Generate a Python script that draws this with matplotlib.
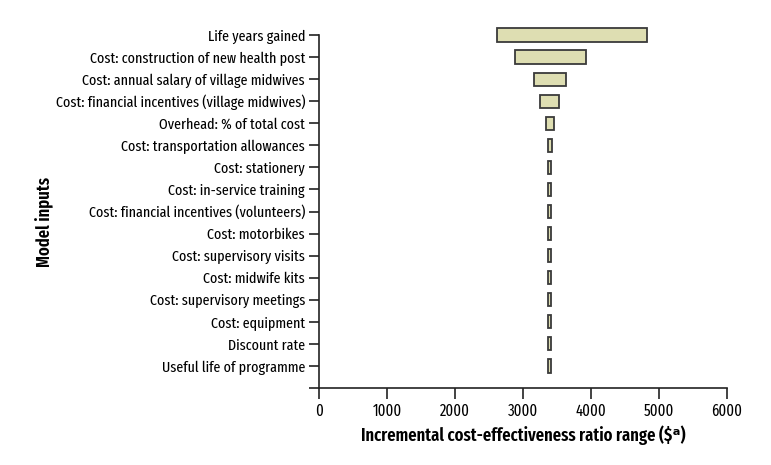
import matplotlib
matplotlib.use("Agg")
import matplotlib.pyplot as plt

# model inputs, top to bottom, with low / high ICER ($)
inputs = [
    "Life years gained",
    "Cost: construction of new health post",
    "Cost: annual salary of village midwives",
    "Cost: financial incentives (village midwives)",
    "Overhead: % of total cost",
    "Cost: transportation allowances",
    "Cost: stationery",
    "Cost: in-service training",
    "Cost: financial incentives (volunteers)",
    "Cost: motorbikes",
    "Cost: supervisory visits",
    "Cost: midwife kits",
    "Cost: supervisory meetings",
    "Cost: equipment",
    "Discount rate",
    "Useful life of programme",
]
low = [2620, 2880, 3160, 3255, 3345, 3365, 3365, 3365, 3365, 3365,
       3365, 3365, 3365, 3365, 3365, 3365]
high = [4830, 3920, 3635, 3535, 3455, 3420, 3415, 3415, 3415, 3415,
        3415, 3415, 3415, 3415, 3415, 3415]
xticks = [0, 1000, 2000, 3000, 4000, 5000, 6000]

plt.rcParams['font.family'] = ['Fira Sans Extra Condensed', 'DejaVu Sans']

fig = plt.figure(figsize=(7.71, 4.65), dpi=100)
ax = fig.add_axes([0.4137, 0.1656, 0.5292, 0.7591])

n = len(inputs)
ypos = [n - i for i in range(n)]
widths = [h - l for l, h in zip(low, high)]
ax.barh(ypos, widths, left=low, height=0.6, color="#dedeb2",
        edgecolor="#3a3a3a", linewidth=1.3, clip_on=False, zorder=3)

ax.set_ylim(0, n)
ax.set_yticks([0] + ypos)
ax.set_yticklabels([""] + inputs, fontsize=11, fontweight="normal")
ax.set_xlim(0, 6000)
ax.set_xticks(xticks)
ax.set_xticklabels([str(t) for t in xticks], fontsize=11.5, fontweight="normal")

ax.spines["top"].set_visible(False)
ax.spines["right"].set_visible(False)
for s in ("left", "bottom"):
    ax.spines[s].set_linewidth(1.2)
    ax.spines[s].set_color("#222222")
ax.tick_params(axis="y", length=7, width=1.2, color="#222222", pad=3)
ax.tick_params(axis="x", length=8, width=1.2, color="#222222", pad=3)

ax.set_xlabel("Incremental cost-effectiveness ratio range ($ᵃ)",
              fontsize=13, fontweight="semibold", labelpad=4)
fig.text(0.058, 0.5226, "Model inputs", rotation=90, fontsize=13,
         fontweight="semibold", ha="center", va="center")

fig.savefig("out.png", dpi=100)
